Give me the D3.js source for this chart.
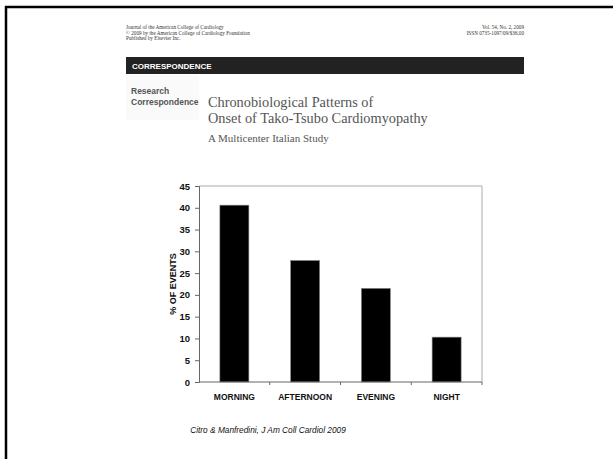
<!DOCTYPE html>
<html>
<head>
<meta charset="utf-8">
<script src="https://cdn.jsdelivr.net/npm/d3@7"></script>
<style>
  body { margin: 0; background: #fff; }
  svg { display: block; }
</style>
</head>
<body>
<svg width="613" height="459"></svg>
<script>
// chart data
var periods = ["MORNING", "AFTERNOON", "EVENING", "NIGHT"];
var pctEvents = [40.6, 27.9, 21.5, 10.3];
var yTicks = [0, 5, 10, 15, 20, 25, 30, 35, 40, 45];

(function () {
  var svg = d3.select("svg");

  // slide frame (top and left edges only)
  svg.append("line").attr("x1", 5).attr("x2", 613).attr("y1", 7).attr("y2", 7)
    .attr("stroke", "#000").attr("stroke-width", 2.5);
  svg.append("line").attr("x1", 6).attr("x2", 6).attr("y1", 6).attr("y2", 459)
    .attr("stroke", "#000").attr("stroke-width", 2.5);

  // journal header
  var hdr = svg.append("g").attr("font-family", "Liberation Serif, serif")
    .attr("font-size", 5.2).attr("fill", "#333");
  hdr.append("text").attr("x", 126).attr("y", 29).text("Journal of the American College of Cardiology");
  hdr.append("text").attr("x", 126).attr("y", 34.5).text("\u00a9 2009 by the American College of Cardiology Foundation");
  hdr.append("text").attr("x", 126).attr("y", 40).text("Published by Elsevier Inc.");
  hdr.append("text").attr("x", 524).attr("y", 29).attr("text-anchor", "end").text("Vol. 54, No. 2, 2009");
  hdr.append("text").attr("x", 524).attr("y", 34.5).attr("text-anchor", "end").text("ISSN 0735-1097/09/$36.00");

  svg.append("rect").attr("x", 126).attr("y", 57).attr("width", 398).attr("height", 17)
    .attr("fill", "#222");
  svg.append("text").attr("x", 132).attr("y", 69).attr("fill", "#fff")
    .attr("font-family", "Liberation Sans, Arial, sans-serif").attr("font-weight", "bold")
    .attr("font-size", 8).text("CORRESPONDENCE");

  svg.append("rect").attr("x", 126).attr("y", 75).attr("width", 73).attr("height", 45)
    .attr("fill", "#fafafa");
  var rc = svg.append("g").attr("font-family", "Liberation Sans, Arial, sans-serif")
    .attr("font-weight", "bold").attr("font-size", 8.5).attr("fill", "#555");
  rc.append("text").attr("x", 131).attr("y", 94).text("Research");
  rc.append("text").attr("x", 131).attr("y", 105).text("Correspondence");

  var tt = svg.append("g").attr("font-family", "Liberation Serif, serif").attr("fill", "#555");
  tt.append("text").attr("x", 208).attr("y", 107).attr("font-size", 14.3).text("Chronobiological Patterns of");
  tt.append("text").attr("x", 208).attr("y", 123).attr("font-size", 14.3).text("Onset of Tako-Tsubo Cardiomyopathy");
  tt.append("text").attr("x", 208).attr("y", 142).attr("font-size", 11).text("A Multicenter Italian Study");

  // bar chart
  var pl = 199, pr = 482, pt = 186, pb = 382;

  var x = d3.scaleBand().domain(periods).range([pl, pr])
    .paddingInner(0.59).paddingOuter(0.295);
  var y = d3.scaleLinear().domain([0, 45]).range([pb, pt]);

  // plot frame: light grey top and right edges
  svg.append("path")
    .attr("d", "M" + pl + "," + pt + "H" + pr + "V" + pb)
    .attr("fill", "none").attr("stroke", "#aaa").attr("stroke-width", 1);

  svg.append("g").selectAll("rect")
    .data(pctEvents)
    .enter()
    .append("rect")
    .attr("x", function (d, i) { return x(periods[i]); })
    .attr("width", x.bandwidth())
    .attr("y", function (d) { return y(d); })
    .attr("height", function (d) { return pb - y(d); })
    .attr("fill", "#000")
    .attr("stroke", "#888")
    .attr("stroke-width", 0.6);

  var yAxis = svg.append("g")
    .attr("transform", "translate(" + pl + ",0)")
    .call(d3.axisLeft(y).tickValues(yTicks).tickSize(4).tickPadding(5));
  yAxis.select(".domain").attr("stroke", "#666");
  yAxis.selectAll(".tick line").attr("stroke", "#666");
  yAxis.selectAll("text")
    .attr("font-family", "Liberation Sans, Arial, sans-serif")
    .attr("font-weight", "bold").attr("font-size", 9.5).attr("fill", "#111");

  // category axis: ticks sit on the category boundaries
  var xBounds = d3.scaleBand().domain(periods).range([pl, pr]);
  var xAxis = svg.append("g")
    .attr("transform", "translate(0," + pb + ")");
  xAxis.append("line").attr("x1", pl).attr("x2", pr)
    .attr("stroke", "#666");
  xAxis.selectAll(".sep")
    .data(periods)
    .enter()
    .append("line")
    .attr("class", "sep")
    .attr("x1", function (d) { return xBounds(d) + xBounds.bandwidth(); })
    .attr("x2", function (d) { return xBounds(d) + xBounds.bandwidth(); })
    .attr("y1", 0).attr("y2", 3)
    .attr("stroke", "#666");
  xAxis.selectAll(".lbl")
    .data(periods)
    .enter()
    .append("text")
    .attr("class", "lbl")
    .attr("x", function (d) { return xBounds(d) + xBounds.bandwidth() / 2; })
    .attr("y", 17.5)
    .attr("text-anchor", "middle")
    .attr("font-family", "Liberation Sans, Arial, sans-serif")
    .attr("font-weight", "bold").attr("font-size", 8.5).attr("fill", "#111")
    .text(function (d) { return d; });

  svg.append("text")
    .attr("transform", "translate(176," + ((pt + pb) / 2) + ") rotate(-90)")
    .attr("text-anchor", "middle")
    .attr("font-family", "Liberation Sans, Arial, sans-serif")
    .attr("font-weight", "bold").attr("font-size", 9).attr("fill", "#111")
    .text("% OF EVENTS");

  svg.append("text")
    .attr("x", 268).attr("y", 433)
    .attr("text-anchor", "middle")
    .attr("font-family", "Liberation Sans, Arial, sans-serif")
    .attr("font-style", "italic").attr("font-size", 8.3).attr("fill", "#111")
    .text("Citro & Manfredini, J Am Coll Cardiol 2009");
})();
</script>
</body>
</html>
